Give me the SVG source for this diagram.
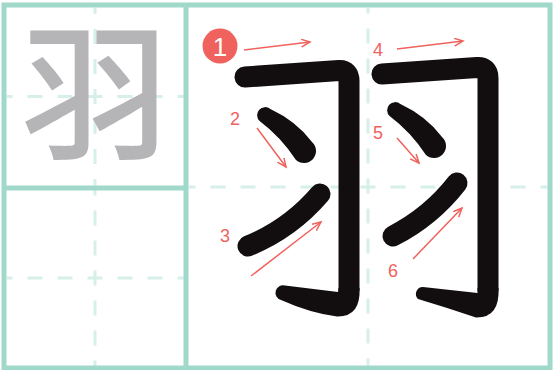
<svg xmlns="http://www.w3.org/2000/svg" width="555" height="370" viewBox="0 0 555 370">
<style>
.border{fill:none;stroke:#a0d8ca;stroke-width:5}
.dash{stroke:#d6efe9;stroke-width:3;stroke-dasharray:15 15}
.ink{fill:none;stroke:#120e0f;stroke-linecap:round;stroke-linejoin:round;stroke-width:21}
.inkf{fill:#120e0f}
.arr{fill:none;stroke:#f0625d;stroke-width:1.5;marker-end:url(#ah)}
.num{font-family:"Liberation Sans",Arial,sans-serif;font-size:18px;fill:#f0625d;text-anchor:middle}
</style>
<defs>
<marker id="ah" markerUnits="userSpaceOnUse" markerWidth="12" markerHeight="10" refX="9" refY="4" orient="auto">
<path d="M0 0 L9 4 L0 8" fill="none" stroke="#f0625d" stroke-width="1.5"/>
</marker>
</defs>
<rect width="555" height="370" fill="#ffffff"/>
<g id="grid">
<line class="dash" x1="95" y1="7.5" x2="95" y2="185.5" stroke-dashoffset="8.5"/>
<line class="dash" x1="7" y1="96.5" x2="184" y2="96.5" stroke-dashoffset="9.5"/>
<line class="dash" x1="95" y1="190" x2="95" y2="366" stroke-dashoffset="9.5"/>
<line class="dash" x1="7" y1="278" x2="184" y2="278" stroke-dashoffset="9.5"/>
<line class="dash" x1="368" y1="7.5" x2="368" y2="365.5" stroke-dashoffset="9"/>
<line class="dash" x1="188.5" y1="187" x2="547.5" y2="187" stroke-dashoffset="8"/>
<rect class="border" x="4" y="5" width="546" height="363"/>
<line class="border" x1="186" y1="5" x2="186" y2="368"/>
<line class="border" x1="4" y1="188" x2="186" y2="188"/>
</g>
<g id="model">
<text x="95" y="148" font-family="'Liberation Sans','Noto Sans CJK SC','Noto Sans CJK JP',sans-serif" font-size="148" font-weight="500" fill="#b5b5b7" text-anchor="middle">羽</text>
</g>
<g id="stroke1">
<path class="ink" d="M245 77 L339 70.5 Q349 70 349 81 L349 290"/>
<path class="inkf" d="M359.5 288 Q361 317 337 316.5 Q310 313 281 300 A7.5 7.5 0 0 1 285 285.5 L338 292 L338.5 288 Z"/>
</g>
<g id="stroke2">
<path class="inkf" d="M270.4 109.1 Q296 121 312.2 142.2 A12 12 0 0 1 295.8 159.8 Q281 137 259.6 120.9 A8 8 0 0 1 270.4 109.1 Z"/>
</g>
<g id="stroke3">
<path class="ink" d="M248 246 Q290 229 320 194"/>
</g>
<g id="stroke4">
<path class="ink" d="M382 74 L477 67.5 Q488 67 488 78 L488 290"/>
<path class="inkf" d="M498.5 288 Q500 318 476 317.5 Q448 308 418 299 A7 7 0 0 1 423 287 L477.5 293 L477.5 288 Z"/>
</g>
<g id="stroke5">
<path class="inkf" d="M400.4 104.1 Q426 116 442.2 137.2 A12 12 0 0 1 425.8 154.8 Q411 132 389.6 115.9 A8 8 0 0 1 400.4 104.1 Z"/>
</g>
<g id="stroke6">
<path class="ink" d="M393 236 Q431 216.5 457 183"/>
</g>
<g id="connectors">
<line class="arr" x1="244" y1="50" x2="310" y2="42"/>
<line class="arr" x1="397" y1="49" x2="463" y2="41"/>
<line class="arr" x1="257" y1="128" x2="286" y2="167"/>
<line class="arr" x1="397" y1="138" x2="419" y2="163"/>
<line class="arr" x1="251" y1="276" x2="321" y2="222"/>
<line class="arr" x1="413" y1="259" x2="462" y2="208"/>
</g>
<g id="labels">
<circle cx="220" cy="46" r="17.5" fill="#f0625d"/>
<text x="220" y="56" font-family="'Liberation Sans',Arial,sans-serif" font-size="26" fill="#ffffff" text-anchor="middle">1</text>
<text class="num" x="235" y="125">2</text>
<text class="num" x="225" y="241.5">3</text>
<text class="num" x="378" y="55.5">4</text>
<text class="num" x="378" y="139">5</text>
<text class="num" x="393" y="276.5">6</text>
</g>
</svg>
